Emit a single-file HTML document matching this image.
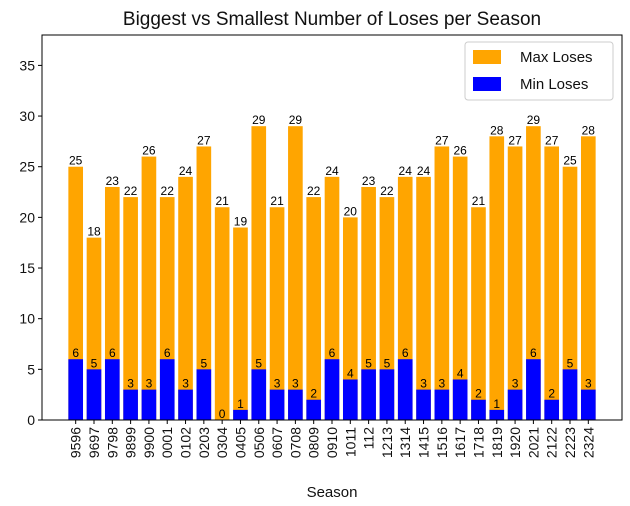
<!DOCTYPE html>
<html><head><meta charset="utf-8"><style>
body{margin:0;background:#fff;}
svg{display:block;font-family:"Liberation Sans",sans-serif;}
</style></head><body>
<svg id="chart" width="630" height="506" viewBox="0 0 630 506">
<text x="332" y="25" text-anchor="middle" font-size="19" fill="#111">Biggest vs Smallest Number of Loses per Season</text>
<g id="bars"></g><g id="axes"></g>
</svg>
<script>
const categories=["9596","9697","9798","9899","9900","0001","0102","0203","0304","0405","0506","0607","0708","0809","0910","1011","112","1213","1314","1415","1516","1617","1718","1819","1920","2021","2122","2223","2324"];
const maxLoses=[25,18,23,22,26,22,24,27,21,19,29,21,29,22,24,20,23,22,24,24,27,26,21,28,27,29,27,25,28];
const minLoses=[6,5,6,3,3,6,3,5,0,1,5,3,3,2,6,4,5,5,6,3,3,4,2,1,3,6,2,5,3];
const yTicks=[0,5,10,15,20,25,30,35];
const NS="http://www.w3.org/2000/svg";
const L=42,R=622,T=35,B=420;
const xMin=-1.84,xMax=categories.length-1+1.84,yMax=38;
const xs=i=>L+(i-xMin)/(xMax-xMin)*(R-L);
const ys=v=>B-v/yMax*(B-T);
const bw=0.8*(R-L)/(xMax-xMin);
function mk(tag,attrs,parent){const e=document.createElementNS(NS,tag);for(const k in attrs)e.setAttribute(k,attrs[k]);parent.appendChild(e);return e;}
const bars=document.getElementById('bars'),axes=document.getElementById('axes');
categories.forEach((c,i)=>{
  const x=xs(i)-bw/2;
  let r=mk('rect',{x:x,y:ys(maxLoses[i]),width:bw,height:B-ys(maxLoses[i]),fill:'#ffa500'},bars);
  
  
  r=mk('rect',{x:x,y:ys(minLoses[i]),width:bw,height:B-ys(minLoses[i]),fill:'#0000ff'},bars);
  
  
  let t=mk('text',{x:xs(i),y:ys(maxLoses[i])-2,'text-anchor':'middle','font-size':12,fill:'#000'},bars);t.textContent=maxLoses[i];
  
  
  t=mk('text',{x:xs(i),y:ys(minLoses[i])-2,'text-anchor':'middle','font-size':12,fill:'#000'},bars);t.textContent=minLoses[i];
  
  
  mk('line',{x1:xs(i),x2:xs(i),y1:B,y2:B+4,stroke:'#000'},axes);
  t=mk('text',{transform:`translate(${xs(i)+5},${B+7}) rotate(-90)`,'text-anchor':'end','font-size':14,fill:'#111'},axes);t.textContent=c;
  
  
});
yTicks.forEach(v=>{
  mk('line',{x1:L-4,x2:L,y1:ys(v),y2:ys(v),stroke:'#000'},axes);
  const t=mk('text',{x:L-7,y:ys(v)+5,'text-anchor':'end','font-size':14,fill:'#111'},axes);t.textContent=v;
  
  
});
const f=mk('rect',{x:L,y:T,width:R-L,height:B-T,fill:'none',stroke:'#000','stroke-width':1},axes);


const xt=mk('text',{x:(L+R)/2,y:497,'text-anchor':'middle','font-size':15,fill:'#111'},axes);xt.textContent='Season';


const lg=mk('g',{},axes);


mk('rect',{x:465,y:42,width:148,height:58,rx:3,fill:'#fff',stroke:'#ccc'},lg);
mk('rect',{x:473,y:50,width:28,height:14,fill:'#ffa500'},lg);
mk('rect',{x:473,y:77,width:28,height:14,fill:'#0000ff'},lg);
let t1=mk('text',{x:520,y:62,'font-size':15,fill:'#111'},lg);t1.textContent='Max Loses';


let t2=mk('text',{x:520,y:89,'font-size':15,fill:'#111'},lg);t2.textContent='Min Loses';


</script>
</body></html>
